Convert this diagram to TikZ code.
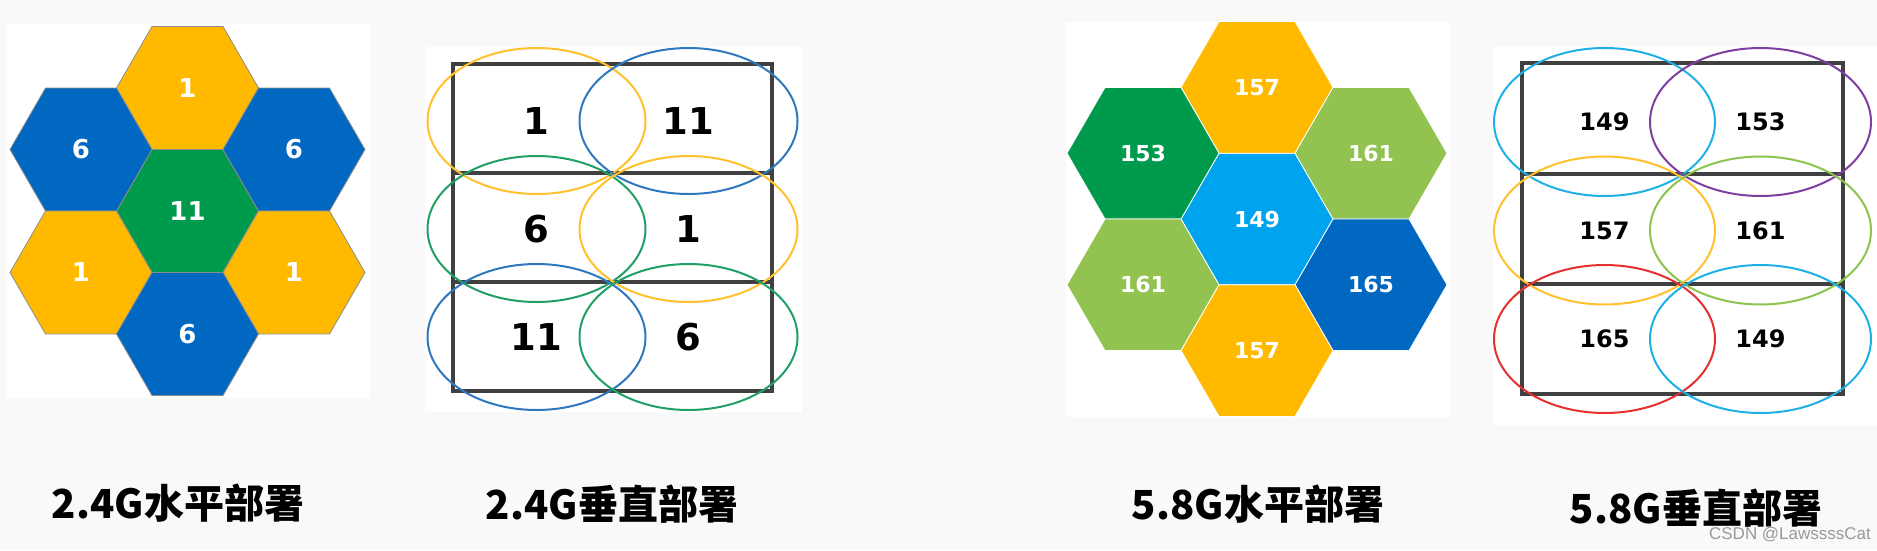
\documentclass[tikz,border=0pt]{standalone}
\usepackage{fontspec}
\setmainfont{DejaVu Sans}
\newfontfamily\cjk{Noto Sans CJK SC}
\newfontfamily\arialfont{Liberation Sans}
\usetikzlibrary{shapes.geometric}

\definecolor{pagegray}{HTML}{F9F9F9}
\definecolor{hexgold}{HTML}{FFBA00}
\definecolor{hexblue}{HTML}{0068C0}
\definecolor{hexgreen}{HTML}{009A4C}
\definecolor{hexlime}{HTML}{92C350}
\definecolor{hexsky}{HTML}{00A3EE}
\definecolor{ringgold}{HTML}{FFC12E}
\definecolor{ringblue}{HTML}{2F78BE}
\definecolor{ringgreen}{HTML}{21A066}
\definecolor{ringsky}{HTML}{1EB0E6}
\definecolor{ringpurple}{HTML}{7F3FA0}
\definecolor{ringlime}{HTML}{8DC450}
\definecolor{ringred}{HTML}{E53030}
\definecolor{framegray}{HTML}{404040}

\begin{document}
\begin{tikzpicture}[x=1pt, y=-1pt,
    hexcell/.style={regular polygon, regular polygon sides=6, inner sep=0pt, outer sep=0pt, text=white},
    ring/.style={ellipse, line width=2pt, inner sep=0pt, text=black},
    gridframe/.style={line width=3.2pt, draw=framegray},
    caption/.style={font=\cjk\bfseries\fontsize{40}{40}\selectfont}]

    % Page and white panels
    \fill[pagegray] (0,0) rectangle (1877,550);
    \useasboundingbox (0,0) rectangle (1877,550);
    \fill[white] (7,24) rectangle (370,398);
    \fill[white] (425,47) rectangle (802,412);
    \fill[white] (1066,22) rectangle (1450,417);
    \fill[white] (1493,47) rectangle (1877,425);

    % 2.4G horizontal: seven hexagon cells
    \foreach \i/\j/\col/\ch/\nm in {0/0/hexgreen/11/c, 0/-2/hexgold/1/n, -1/-1/hexblue/6/nw, 1/-1/hexblue/6/ne,
                                   -1/1/hexgold/1/sw, 1/1/hexgold/1/se, 0/2/hexblue/6/s}
        \node[hexcell, fill=\col, draw=black!45, line width=0.8pt, minimum size=142pt,
              font=\bfseries\fontsize{26}{26}\selectfont] (h24-\nm) at ({187.5+106.5*\i}, {211+61.5*\j}) {\ch};

    % 2.4G vertical: three rows, two rings each
    \draw[gridframe] (453,64) rectangle (772,391);
    \draw[gridframe] (453,173) -- (772,173);
    \draw[gridframe] (453,282) -- (772,282);
    \foreach \r/\colA/\chA/\colB/\chB in {0/ringgold/1/ringblue/11, 1/ringgreen/6/ringgold/1, 2/ringblue/11/ringgreen/6} {
        \node[ring, draw=\colA, minimum width=218pt, minimum height=146pt,
              font=\bfseries\fontsize{37}{37}\selectfont] (v24-\r-l) at (536.5, {121+108*\r}) {\chA};
        \node[ring, draw=\colB, minimum width=218pt, minimum height=146pt,
              font=\bfseries\fontsize{37}{37}\selectfont] (v24-\r-r) at (688.5, {121+108*\r}) {\chB};
    }

    % 5.8G horizontal: seven hexagon cells
    \foreach \i/\j/\col/\ch/\nm in {0/0/hexsky/149/c, 0/-2/hexgold/157/n, -1/-1/hexgreen/153/nw, 1/-1/hexlime/161/ne,
                                   -1/1/hexlime/161/sw, 1/1/hexblue/165/se, 0/2/hexgold/157/s}
        \node[hexcell, fill=\col, draw=white, line width=0.8pt, minimum size=152pt,
              font=\bfseries\fontsize{22}{22}\selectfont] (h58-\nm) at ({1257+114*\i}, {219+65.8*\j}) {\ch};

    % 5.8G vertical: three rows, two rings each
    \draw[gridframe] (1522,63) rectangle (1843,394);
    \draw[gridframe] (1522,174) -- (1843,174);
    \draw[gridframe] (1522,284) -- (1843,284);
    \foreach \r/\colA/\chA/\colB/\chB in {0/ringsky/149/ringpurple/153, 1/ringgold/157/ringlime/161, 2/ringred/165/ringsky/149} {
        \node[ring, draw=\colA, minimum width=221pt, minimum height=148pt,
              font=\bfseries\fontsize{24}{24}\selectfont] (v58-\r-l) at (1604.5, {122+108.5*\r}) {\chA};
        \node[ring, draw=\colB, minimum width=221pt, minimum height=148pt,
              font=\bfseries\fontsize{24}{24}\selectfont] (v58-\r-r) at (1760.5, {122+108.5*\r}) {\chB};
    }

    % Captions
    \node[caption] (t24h) at (178,503) {2.4G水平部署};
    \node[caption] (t24v) at (612,504) {2.4G垂直部署};
    \node[caption] (t58h) at (1258,504) {5.8G水平部署};
    \node[caption] (t58v) at (1696,508) {5.8G垂直部署};
    \node[font=\arialfont\fontsize{17}{17}\selectfont, text=gray!80] (mark) at (1790,535) {CSDN @LawssssCat};

\end{tikzpicture}
\end{document}
